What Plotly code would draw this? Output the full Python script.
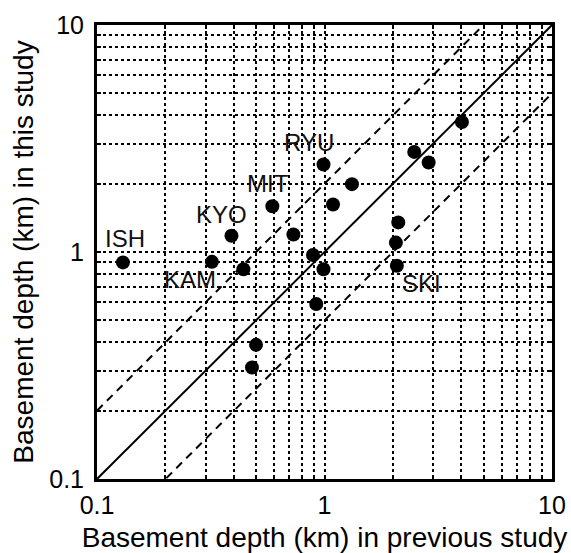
import math
import plotly.graph_objects as go

# Basement depth (km): previous study (x) vs this study (y)
prev_depth = [0.13, 0.32, 0.44, 0.39, 0.59, 0.73, 0.89, 0.99, 0.92, 0.99,
              1.09, 1.32, 2.11, 2.06, 2.08, 2.48, 2.87, 4.02, 0.50, 0.48]
this_depth = [0.90, 0.905, 0.84, 1.18, 1.59, 1.195, 0.97, 0.84, 0.59, 2.43,
              1.62, 1.99, 1.35, 1.10, 0.87, 2.76, 2.48, 3.74, 0.39, 0.31]

# Site labels and their positions (data coords)
label_text = ["ISH", "KAM", "KYO", "MIT", "RYU", "SKI"]
label_x = [0.133, 0.256, 0.354, 0.562, 0.859, 2.66]
label_y = [1.147, 0.756, 1.464, 2.007, 3.045, 0.726]

# Reference lines y = k * x
line_x = [0.1, 10]
ratio_solid = 1.0
ratio_dashed = [2.0, 0.5]

tick_vals = [0.1, 0.2, 0.3, 0.4, 0.5, 0.6, 0.7, 0.8, 0.9,
             1, 2, 3, 4, 5, 6, 7, 8, 9, 10]
tick_text = ["0.1"] + [""] * 8 + ["1"] + [""] * 8 + ["10"]

FONT = "Arial, Liberation Sans, sans-serif"

fig = go.Figure()

for r in ratio_dashed:
    fig.add_trace(go.Scatter(x=line_x, y=[r * v for v in line_x], mode="lines",
                             line=dict(color="black", width=2, dash="8px,6px"),
                             hoverinfo="skip", showlegend=False))
fig.add_trace(go.Scatter(x=line_x, y=[ratio_solid * v for v in line_x], mode="lines",
                         line=dict(color="black", width=2),
                         hoverinfo="skip", showlegend=False))
fig.add_trace(go.Scatter(x=prev_depth, y=this_depth, mode="markers",
                         marker=dict(color="black", size=14),
                         showlegend=False))

# annotations on log axes take log10 coordinates
for t, lx, ly in zip(label_text, label_x, label_y):
    fig.add_annotation(x=math.log10(lx), y=math.log10(ly), xref="x", yref="y",
                       text=t, showarrow=False,
                       xanchor="center", yanchor="middle",
                       font=dict(family=FONT, size=24, color="#111"))

axis_common = dict(
    type="log", range=[-1, 1], tickvals=tick_vals, ticktext=tick_text,
    showgrid=True, gridcolor="black", gridwidth=2, griddash="3px,3px",
    showline=True, linecolor="black", linewidth=3, mirror="allticks",
    ticks="inside", ticklen=4, tickwidth=2, tickcolor="black",
    zeroline=False, automargin=False,
    tickfont=dict(family=FONT, size=25, color="black"),
)

fig.update_xaxes(**axis_common, ticklabelstandoff=2,
                 title=dict(text="Basement depth (km) in previous study",
                            font=dict(family=FONT, size=28, color="black"),
                            standoff=14))
fig.update_yaxes(**axis_common, ticklabelstandoff=5,
                 title=dict(text="Basement depth (km) in this study",
                            font=dict(family=FONT, size=28, color="black"),
                            standoff=8))

fig.update_layout(
    width=571, height=553,
    margin=dict(l=97, r=19, t=25, b=74, autoexpand=False),
    plot_bgcolor="white", paper_bgcolor="white",
    showlegend=False,
)

fig.write_html("out.html")
